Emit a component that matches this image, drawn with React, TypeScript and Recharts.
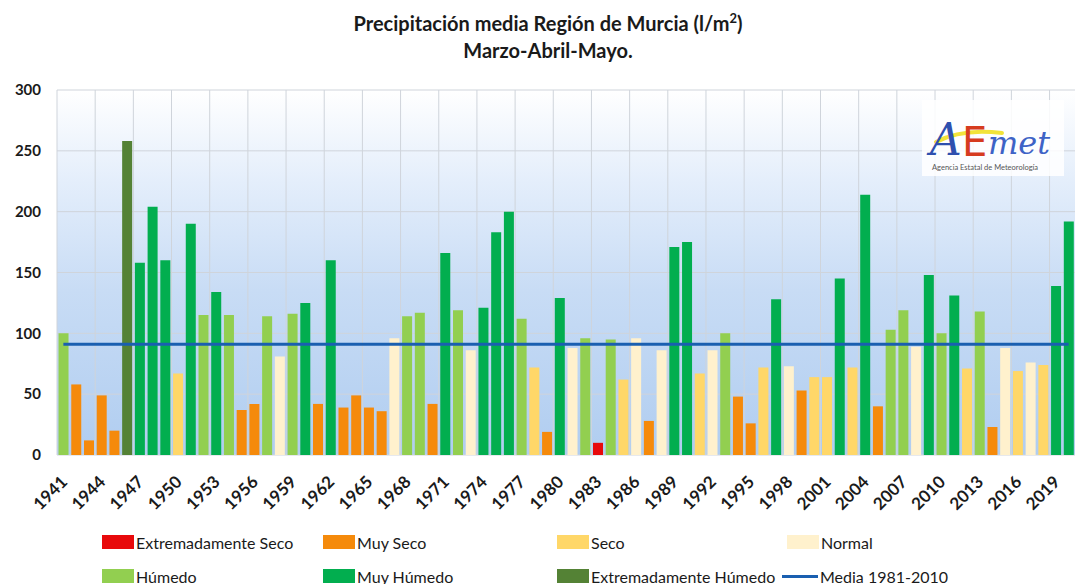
import React from "react"
import { ComposedChart, Bar, Line, Cell, XAxis, YAxis, CartesianGrid } from "recharts"

const years = [
  1941, 1942, 1943, 1944, 1945, 1946, 1947, 1948, 1949, 1950,
  1951, 1952, 1953, 1954, 1955, 1956, 1957, 1958, 1959, 1960,
  1961, 1962, 1963, 1964, 1965, 1966, 1967, 1968, 1969, 1970,
  1971, 1972, 1973, 1974, 1975, 1976, 1977, 1978, 1979, 1980,
  1981, 1982, 1983, 1984, 1985, 1986, 1987, 1988, 1989, 1990,
  1991, 1992, 1993, 1994, 1995, 1996, 1997, 1998, 1999, 2000,
  2001, 2002, 2003, 2004, 2005, 2006, 2007, 2008, 2009, 2010,
  2011, 2012, 2013, 2014, 2015, 2016, 2017, 2018, 2019, 2020,
]

const precip = [
  100, 58, 12, 49, 20, 258, 158, 204, 160, 67,
  190, 115, 134, 115, 37, 42, 114, 81, 116, 125,
  42, 160, 39, 49, 39, 36, 96, 114, 117, 42,
  166, 119, 86, 121, 183, 200, 112, 72, 19, 129,
  88, 96, 10, 95, 62, 96, 28, 86, 171, 175,
  67, 86, 100, 48, 26, 72, 128, 73, 53, 64,
  64, 145, 72, 214, 40, 103, 119, 89, 148, 100,
  131, 71, 118, 23, 88, 69, 76, 74, 139, 192,
]

// ES extremadamente seco, MS muy seco, S seco, N normal, H húmedo, MH muy húmedo, EH extremadamente húmedo
const classes = [
  "H", "MS", "MS", "MS", "MS", "EH", "MH", "MH", "MH", "S",
  "MH", "H", "MH", "H", "MS", "MS", "H", "N", "H", "MH",
  "MS", "MH", "MS", "MS", "MS", "MS", "N", "H", "H", "MS",
  "MH", "H", "N", "MH", "MH", "MH", "H", "S", "MS", "MH",
  "N", "H", "ES", "H", "S", "N", "MS", "N", "MH", "MH",
  "S", "N", "H", "MS", "MS", "S", "MH", "N", "MS", "S",
  "S", "MH", "S", "MH", "MS", "H", "H", "N", "MH", "H",
  "MH", "S", "H", "MS", "N", "S", "N", "S", "MH", "MH",
]

const media = 91

const classColors: Record<string, string> = {
  ES: "#e8090b",
  MS: "#f58a0b",
  S: "#ffd768",
  N: "#fff1cd",
  H: "#92cf50",
  MH: "#02ae4f",
  EH: "#548235",
}

const legendItems = [
  { key: "ES", label: "Extremadamente Seco", x: 102, row: 0 },
  { key: "MS", label: "Muy Seco", x: 323, row: 0 },
  { key: "S", label: "Seco", x: 557, row: 0 },
  { key: "N", label: "Normal", x: 787, row: 0 },
  { key: "H", label: "Húmedo", x: 102, row: 1 },
  { key: "MH", label: "Muy Húmedo", x: 323, row: 1 },
  { key: "EH", label: "Extremadamente Húmedo", x: 557, row: 1 },
]

const yTicks = [0, 50, 100, 150, 200, 250, 300]

const data = years.map((y, i) => ({
  year: String(y),
  value: precip[i],
  cls: classes[i],
  media,
}))

const font = "Lato, 'Open Sans', sans-serif"

const YearTick = ({ x, y, payload }: any) => (
  <text
    x={x + 5}
    y={y + 20}
    transform={`rotate(-45, ${x + 5}, ${y + 20})`}
    textAnchor="end"
    fontFamily={font}
    fontWeight="bold"
    fontSize={17}
    fill="#1a1a1a"
  >
    {payload.value}
  </text>
)

export default function App() {
  return (
    <div style={{ position: "absolute", left: 0, top: 0, width: 1079, height: 584, background: "#fff", fontFamily: font }}>
      <div style={{ position: "absolute", left: 0, top: 10, width: 1096, textAlign: "center", fontSize: 20, fontWeight: "bold", lineHeight: "27px", color: "#1a1a1a" }}>
        <div>Precipitación media Región de Murcia (l/m<sup style={{ fontSize: 13, lineHeight: 0 }}>2</sup>)</div>
        <div>Marzo-Abril-Mayo.</div>
      </div>
      <div style={{ position: "absolute", left: 0, top: 0 }}>
        <ComposedChart width={1079} height={584} data={data} margin={{ top: 90, right: 4, left: 12, bottom: 79 }} barCategoryGap="12%">
          <defs>
            <linearGradient id="plotBg" x1="0" y1="0" x2="0" y2="1">
              <stop offset="0%" stopColor="#ffffff" />
              <stop offset="25%" stopColor="#e4eefb" />
              <stop offset="55%" stopColor="#c8dcf5" />
              <stop offset="100%" stopColor="#b0cdf0" />
            </linearGradient>
          </defs>
          <CartesianGrid
            fill="url(#plotBg)"
            fillOpacity={1}
            stroke="#cfd4db"
            verticalCoordinatesGenerator={({ offset }: any) =>
              Array.from({ length: Math.floor(years.length / 3) + 1 }, (_, k) => offset.left + (k * 3 * offset.width) / years.length)
            }
          />
          <XAxis dataKey="year" interval={2} tick={<YearTick />} tickLine={false} axisLine={false} height={50} />
          <YAxis
            domain={[0, 300]}
            ticks={yTicks}
            width={45}
            tickLine={false}
            axisLine={false}
            tickMargin={10}
            tick={{ fontFamily: font, fontWeight: "bold", fontSize: 15, fill: "#1a1a1a" }}
          />
          <Bar dataKey="value" isAnimationActive={false}>
            {data.map((d, i) => (
              <Cell key={i} fill={classColors[d.cls]} />
            ))}
          </Bar>
          <Line dataKey="media" stroke="#1a5fb0" strokeWidth={3} dot={false} activeDot={false} isAnimationActive={false} />
        </ComposedChart>
      </div>

      <div style={{ position: "absolute", left: 922, top: 100, width: 142, height: 76, background: "rgba(255,255,255,0.85)" }}>
        <svg width={142} height={76}>
          <path d="M 14 42 Q 40 28 80 33" stroke="#f2e33a" strokeWidth={4} fill="none" strokeLinecap="round" />
          <text x={8} y={55} fontFamily="'DejaVu Serif', serif" fontStyle="italic" fontSize={44} fill="#2e4fae">A</text>
          <text x={40} y={56} fontFamily="'DejaVu Sans', sans-serif" fontSize={40} fill="#d63b1f">E</text>
          <text x={66} y={54} fontFamily="'DejaVu Serif', serif" fontStyle="italic" fontSize={32} fill="#3e63c6">met</text>
          <text x={10} y={70} fontFamily={font} fontSize={7.5} fill="#555">Agencia Estatal de Meteorología</text>
        </svg>
      </div>

      {legendItems.map((it) => (
        <div key={it.key} style={{ position: "absolute", left: it.x, top: it.row === 0 ? 532 : 566, display: "flex", alignItems: "center", height: 20 }}>
          <div style={{ width: 32, height: 14, background: classColors[it.key] }} />
          <span style={{ marginLeft: 2, fontSize: 16, color: "#1a1a1a" }}>{it.label}</span>
        </div>
      ))}
      <div style={{ position: "absolute", left: 782, top: 566, display: "flex", alignItems: "center", height: 20 }}>
        <div style={{ width: 36, height: 3, background: "#1a5fb0" }} />
        <span style={{ marginLeft: 2, fontSize: 16, color: "#1a1a1a" }}>Media 1981-2010</span>
      </div>
    </div>
  )
}
